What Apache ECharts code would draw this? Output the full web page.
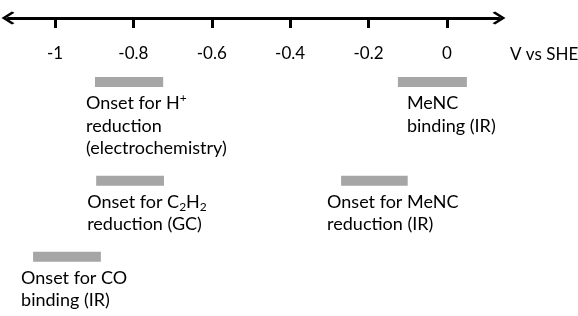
<!DOCTYPE html>
<html>
<head>
<meta charset="utf-8">
<script src="https://cdn.jsdelivr.net/npm/echarts@6/dist/echarts.min.js"></script>
<style>
  html, body { margin: 0; padding: 0; background: #fff; }
  #chart { width: 578px; height: 316px; }
</style>
</head>
<body>
<div id="chart"></div>
<script>
// potential ranges (V vs SHE)
var onsetStart = [-0.898, -0.125, -0.895, -1.056, -0.270];
var onsetEnd = [-0.724, 0.051, -0.722, -0.883, -0.100];
// which row of the diagram each bar sits in
var rowLevel = [0, 0, 1.3, 2.3, 1.3];
var onsetLabels = [
    'Onset for H{sup|+}\nreduction\n(electrochemistry)',
    'MeNC\nbinding (IR)',
    'Onset for C{sub|2}H{sub|2}\nreduction (GC)',
    'Onset for CO\nbinding (IR)',
    'Onset for MeNC\nreduction (IR)'
];
var tickValues = [-1, -0.8, -0.6, -0.4, -0.2, 0];

// label shift from the bar's left end, px
var labelDx = [-9, 9, -9, -12, -14];

var myChart = echarts.init(document.getElementById('chart'));

var font = 'Lato';
var chevron = 'path://M5,0 L10,8 L9,10 L5,3.6 L1,10 L0,8 Z';

var option = {
    animation: false,
    grid: {
        left: 8,
        right: 79,
        top: 18,
        bottom: 0,
        outerBoundsMode: 'none',
        containLabel: false
    },
    xAxis: {
        type: 'value',
        position: 'top',
        min: -1.12,
        max: 0.133,
        name: 'V vs SHE',
        nameLocation: 'end',
        nameGap: 11,
        nameTextStyle: {
            fontFamily: font,
            fontSize: 17,
            color: '#000',
            align: 'left',
            verticalAlign: 'top',
            lineHeight: 74
        },
        axisLine: {
            onZero: false,
            lineStyle: { color: '#000', width: 3 },
            symbol: [chevron, chevron],
            symbolSize: [13, 13],
            symbolOffset: [0, 0]
        },
        axisTick: {
            inside: true,
            length: 10,
            lineStyle: { color: '#000', width: 3 },
            customValues: tickValues
        },
        axisLabel: {
            inside: true,
            margin: 27,
            fontFamily: font,
            fontSize: 17,
            color: '#000',
            customValues: tickValues
        },
        splitLine: { show: false }
    },
    yAxis: {
        type: 'value',
        show: false,
        inverse: true,
        min: -64 / 76,
        max: 234 / 76
    },
    series: [
        {
            type: 'custom',
            clip: false,
            data: onsetStart.map(function (s, i) {
                return [s, onsetEnd[i], rowLevel[i]];
            }),
            renderItem: function (params, api) {
                var i = params.dataIndex;
                var p0 = api.coord([api.value(0), api.value(2)]);
                var p1 = api.coord([api.value(1), api.value(2)]);
                return {
                    type: 'group',
                    children: [
                        {
                            type: 'rect',
                            shape: { x: p0[0], y: p0[1] - 5, width: p1[0] - p0[0], height: 10 },
                            style: { fill: '#a6a6a6' }
                        },
                        {
                            type: 'text',
                            x: p0[0] + labelDx[i],
                            y: p0[1] + 10,
                            style: {
                                text: onsetLabels[i],
                                fontFamily: font,
                                fontSize: 18,
                                lineHeight: 22.5,
                                fill: '#000',
                                align: 'left',
                                verticalAlign: 'top',
                                rich: {
                                    sup: { fontFamily: font, fontSize: 12, verticalAlign: 'top', lineHeight: 17, fill: '#000' },
                                    sub: { fontFamily: font, fontSize: 12, verticalAlign: 'bottom', lineHeight: 17, fill: '#000' }
                                }
                            }
                        }
                    ]
                };
            }
        }
    ]
};

myChart.setOption(option);
window.addEventListener('resize', function () {
    myChart.resize();
});
</script>
</body>
</html>
